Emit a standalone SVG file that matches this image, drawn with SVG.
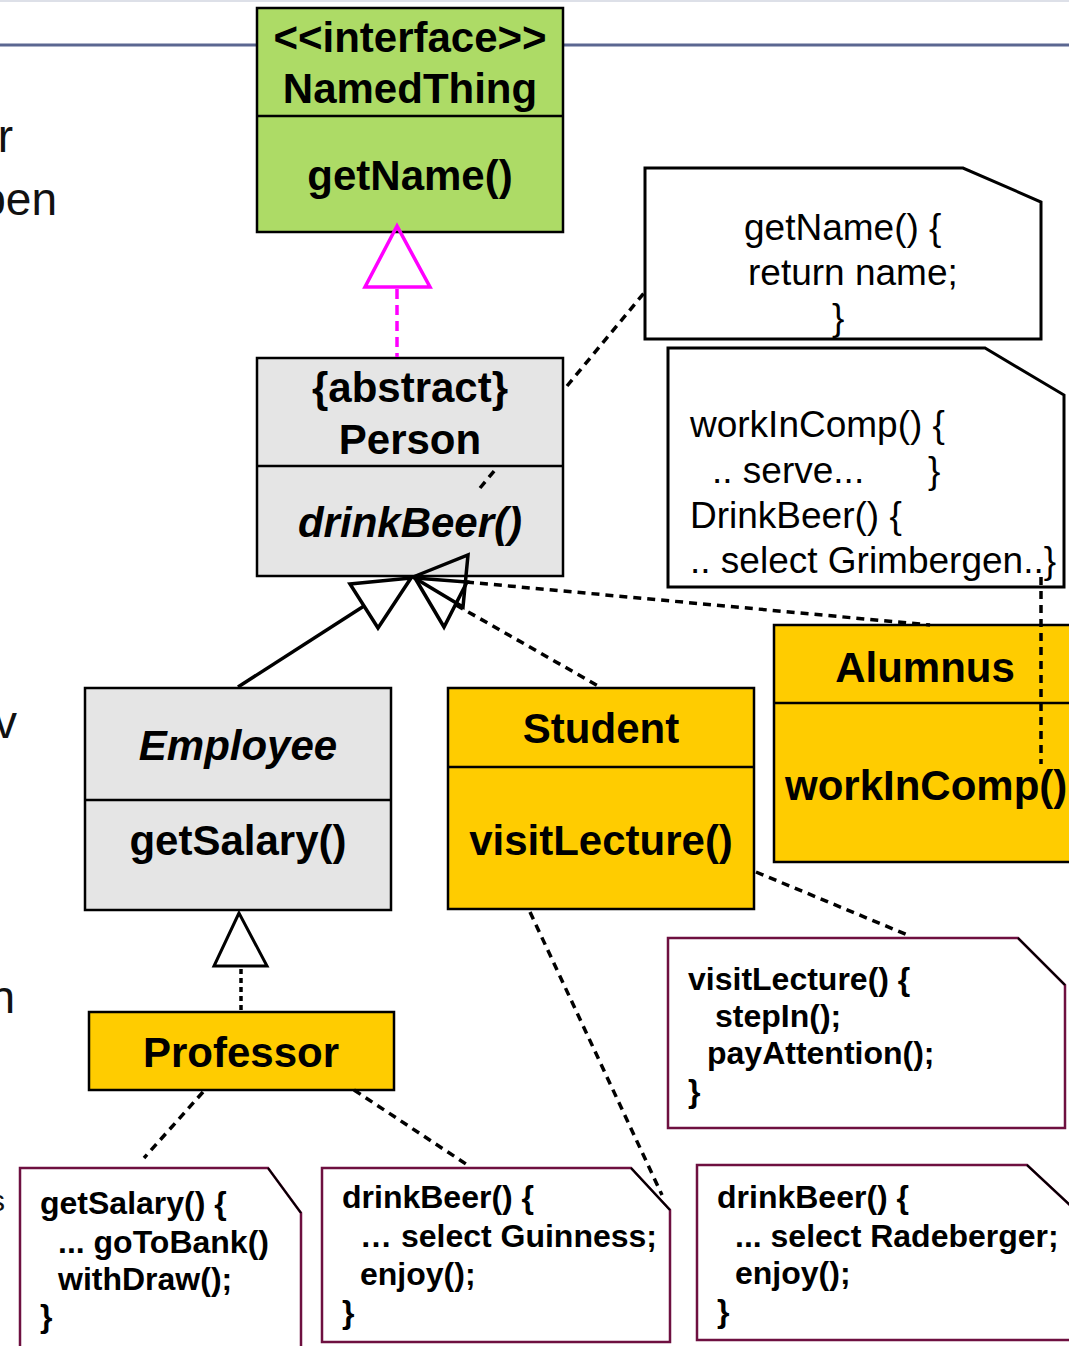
<svg xmlns="http://www.w3.org/2000/svg" width="1069" height="1346" viewBox="0 0 1069 1346">
<style>
text{font-family:"Liberation Sans",Arial,sans-serif;fill:#000}
.cls{font-size:42px;font-weight:bold;text-anchor:middle}
.it{font-style:italic}
.box{stroke:#000;stroke-width:2.5}
.green{fill:#addb66}
.gray{fill:#e5e5e5}
.yel{fill:#ffcc00}
.note{fill:#fff;stroke:#000;stroke-width:3}
.mnote{fill:#fff;stroke:#6e1040;stroke-width:2.5}
.corner{fill:none;stroke:#000;stroke-width:2}
.nt{font-size:37px}
.bt{font-size:32px;font-weight:bold}
.frag{font-size:46px;text-anchor:end;fill:#111}
.dash{fill:none;stroke:#000;stroke-width:3.5;stroke-dasharray:8 6}
.dot{fill:none;stroke:#000;stroke-width:3.5;stroke-dasharray:5 4}
.tri{fill:none;stroke:#000;stroke-width:3.5;stroke-linejoin:miter}
</style>
<rect x="0" y="0" width="1069" height="1346" fill="#fff"/>
<line x1="0" y1="1" x2="1069" y2="1" stroke="#dde0e8" stroke-width="2"/>
<line x1="0" y1="45" x2="1069" y2="45" stroke="#5b6791" stroke-width="3"/>
<g id="fragments">
<text class="frag" x="13" y="152">r</text>
<text class="frag" x="57" y="215">pen</text>
<text class="frag" x="17" y="738">v</text>
<text class="frag" x="15" y="1013">n</text>
<text class="frag" x="5" y="1211" style="font-size:30px">s</text>
</g>
<g id="NamedThing">
<rect class="box green" x="257" y="8" width="306" height="224"/>
<line class="box" x1="257" y1="116" x2="563" y2="116"/>
<text class="cls" x="410" y="52">&lt;&lt;interface&gt;&gt;</text>
<text class="cls" x="410" y="103">NamedThing</text>
<text class="cls" x="410" y="190">getName()</text>
</g>
<g id="Person">
<rect class="box gray" x="257" y="358" width="306" height="218"/>
<line class="box" x1="257" y1="466" x2="563" y2="466"/>
<text class="cls" x="410" y="402">{abstract}</text>
<text class="cls" x="410" y="454">Person</text>
<text class="cls it" x="410" y="537">drinkBeer()</text>
</g>
<g id="Employee">
<rect class="box gray" x="85" y="688" width="306" height="222"/>
<line class="box" x1="85" y1="800" x2="391" y2="800"/>
<text class="cls it" x="238" y="760">Employee</text>
<text class="cls" x="238" y="855">getSalary()</text>
</g>
<g id="Student">
<rect class="box yel" x="448" y="688" width="306" height="221"/>
<line class="box" x1="448" y1="767" x2="754" y2="767"/>
<text class="cls" x="601" y="743">Student</text>
<text class="cls" x="601" y="855">visitLecture()</text>
</g>
<g id="Alumnus">
<rect class="box yel" x="774" y="625" width="310" height="237"/>
<line class="box" x1="774" y1="703" x2="1084" y2="703"/>
<text class="cls" x="925" y="682">Alumnus</text>
<text class="cls" x="785" y="800" style="text-anchor:start">workInComp()</text>
</g>
<g id="Professor">
<rect class="box yel" x="89" y="1012" width="305" height="78"/>
<text class="cls" x="241" y="1067">Professor</text>
</g>
<g id="noteGetName">
<polygon class="note" points="645,168 963,168 1041,202 1041,339 645,339"/>
<text class="nt" x="744" y="240">getName() {</text>
<text class="nt" x="748" y="285">return name;</text>
<text class="nt" x="832" y="330">}</text>
</g>
<g id="noteWorkInComp">
<polygon class="note" points="668,348 985,348 1064,395 1064,587 668,587"/>
<text class="nt" x="690" y="437">workInComp() {</text>
<text class="nt" x="712" y="483">.. serve...</text>
<text class="nt" x="928" y="483">}</text>
<text class="nt" x="690" y="528">DrinkBeer() {</text>
<text class="nt" x="690" y="573">.. select Grimbergen..}</text>
</g>
<g id="noteVisitLecture">
<polygon class="mnote" points="668,938 1018,938 1065,985 1065,1128 668,1128"/>
<line class="corner" x1="1018" y1="938" x2="1065" y2="985"/>
<text class="bt" x="688" y="990">visitLecture() {</text>
<text class="bt" x="715" y="1027">stepIn();</text>
<text class="bt" x="707" y="1064">payAttention();</text>
<text class="bt" x="688" y="1102">}</text>
</g>
<g id="noteGetSalary">
<polygon class="mnote" points="20,1168 268,1168 301,1213 301,1350 20,1350"/>
<line class="corner" x1="268" y1="1168" x2="301" y2="1213"/>
<text class="bt" x="40" y="1214">getSalary() {</text>
<text class="bt" x="58" y="1253">... goToBank()</text>
<text class="bt" x="58" y="1290">withDraw();</text>
<text class="bt" x="40" y="1327">}</text>
</g>
<g id="noteGuinness">
<polygon class="mnote" points="322,1168 631,1168 670,1210 670,1342 322,1342"/>
<line class="corner" x1="631" y1="1168" x2="670" y2="1210"/>
<text class="bt" x="342" y="1208">drinkBeer() {</text>
<text class="bt" x="360" y="1247">… select Guinness;</text>
<text class="bt" x="360" y="1285">enjoy();</text>
<text class="bt" x="342" y="1323">}</text>
</g>
<g id="noteRadeberger">
<polygon class="mnote" points="697,1165 1027,1165 1072,1207 1072,1340 697,1340"/>
<line class="corner" x1="1027" y1="1165" x2="1072" y2="1207"/>
<text class="bt" x="717" y="1208">drinkBeer() {</text>
<text class="bt" x="735" y="1247">... select Radeberger;</text>
<text class="bt" x="735" y="1284">enjoy();</text>
<text class="bt" x="717" y="1322">}</text>
</g>
<g id="connectors">
<polygon points="397,226 365,287 430,287" fill="none" stroke="#ff00ff" stroke-width="3.5"/>
<line x1="397" y1="289" x2="397" y2="357" stroke="#ff00ff" stroke-width="3.5" stroke-dasharray="10 6"/>
<line x1="238" y1="687" x2="364" y2="606" stroke="#000" stroke-width="3.5"/>
<polygon class="tri" points="411,578 350,584 378,628"/>
<polygon class="tri" points="415,578 444,627 467,582"/>
<polygon class="tri" points="413,577 468,555 463,607"/>
<line class="dash" x1="456" y1="605" x2="600" y2="687"/>
<line class="dash" x1="466" y1="582" x2="930" y2="625"/>
<line class="dash" x1="567" y1="386" x2="644" y2="293"/>
<line class="dash" x1="480" y1="488" x2="495" y2="470"/>
<line class="dash" x1="1041" y1="577" x2="1041" y2="764"/>
<polygon class="tri" points="239,913 214,966 267,966" style="stroke-width:3"/>
<line class="dot" x1="241" y1="969" x2="241" y2="1011"/>
<line class="dash" x1="756" y1="872" x2="910" y2="936"/>
<line class="dash" x1="530" y1="912" x2="662" y2="1195"/>
<line class="dash" x1="203" y1="1092" x2="144" y2="1158"/>
<line class="dash" x1="354" y1="1090" x2="466" y2="1164"/>
</g>
</svg>
